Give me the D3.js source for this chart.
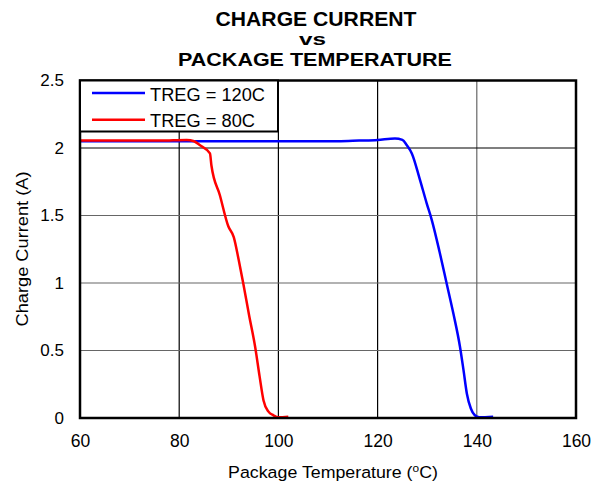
<!DOCTYPE html>
<html>
<head>
<meta charset="utf-8">
<script src="https://cdn.jsdelivr.net/npm/d3@7/dist/d3.min.js"></script>
<style>
  body { margin: 0; background: #fff; }
  svg { display: block; font-family: "Liberation Sans", Arial, sans-serif; }
</style>
</head>
<body>
<svg id="chart" width="592" height="484"></svg>
<script>
// Charge current vs package temperature for two regulation thresholds
const xTicks = [60, 80, 100, 120, 140, 160];
const yTicks = [0, 0.5, 1, 1.5, 2, 2.5];
const yTickLabels = ["0", "0.5", "1", "1.5", "2", "2.5"];

const treg120Temp = [60, 80, 100, 112, 116.3, 120, 123.5, 125, 125.9, 126.9, 128.5, 129.9, 130.9, 132.5, 133.9, 135.3, 136.6, 137.3, 138.0, 138.8, 139.6, 140.5, 143.3];
const treg120Amp  = [2.05, 2.05, 2.05, 2.05, 2.055, 2.06, 2.07, 2.06, 2.02, 1.96, 1.77, 1.59, 1.47, 1.23, 1.0, 0.77, 0.53, 0.36, 0.18, 0.07, 0.02, 0.005, 0.01];

const treg80Temp = [60, 76.1, 81.5, 83, 84.2, 86.2, 86.5, 88.2, 89.9, 91.0, 92.0, 92.9, 94.1, 95.3, 96.2, 97.0, 98.0, 99.0, 100, 102];
const treg80Amp  = [2.055, 2.055, 2.06, 2.05, 2.02, 1.96, 1.87, 1.65, 1.42, 1.34, 1.17, 1.0, 0.76, 0.53, 0.31, 0.13, 0.047, 0.02, 0.005, 0.01];

const series = [
  { name: "TREG = 120C", color: "#0000ff", temp: treg120Temp, amp: treg120Amp },
  { name: "TREG = 80C",  color: "#ff0000", temp: treg80Temp,  amp: treg80Amp }
];

const svg = d3.select("#chart");
const plot = { left: 80, right: 576, top: 80.5, bottom: 418 };

const x = d3.scaleLinear().domain([60, 160]).range([plot.left, plot.right]);
const y = d3.scaleLinear().domain([0, 2.5]).range([plot.bottom, plot.top]);

// Stretch a text element horizontally (in its own frame) to a given width
function fitWidth(sel, width) {
  const w = sel.node().getComputedTextLength();
  if (w > 0) sel.attr("transform", (sel.attr("transform") || "") + ` scale(${width / w},1)`);
}

// Places a stretched label with its anchor point at (cx, by)
function label(parent, cx, by, txt, size, width, anchor, bold, rotate) {
  const g = parent.append("g").attr("transform", `translate(${cx},${by})` + (rotate ? ` rotate(${rotate})` : ""));
  const t = g.append("text").attr("x", 0).attr("y", 0)
    .attr("text-anchor", anchor).attr("font-size", size).attr("fill", "#000");
  if (bold) t.attr("font-weight", "bold");
  if (typeof txt === "function") txt(t); else t.text(txt);
  fitWidth(t, width);
  return t;
}

// Title
label(svg, 316, 26, "CHARGE CURRENT", 20, 201, "middle", true);
label(svg, 312.5, 45, "vs", 16, 27, "middle", true);
label(svg, 315, 66, "PACKAGE TEMPERATURE", 19, 274, "middle", true);

// Grid
const grid = svg.append("g");
grid.selectAll("line.v").data(xTicks.slice(1, -1)).join("line")
  .attr("x1", d => x(d)).attr("x2", d => x(d))
  .attr("y1", plot.top).attr("y2", plot.bottom)
  .attr("stroke", d => d === 140 ? "#666" : "#000").attr("stroke-width", 1.2);
grid.selectAll("line.h").data(yTicks.slice(1, -1)).join("line")
  .attr("x1", plot.left).attr("x2", plot.right)
  .attr("y1", d => y(d)).attr("y2", d => y(d))
  .attr("stroke", d => d === 2 ? "#000" : "#666").attr("stroke-width", 1.2);

// Axes (labels only; the frame is drawn separately)
const xAxis = svg.append("g")
  .attr("transform", `translate(0,${plot.bottom})`)
  .call(d3.axisBottom(x).tickValues(xTicks).tickSize(0));
xAxis.select(".domain").remove();
xAxis.selectAll("text").attr("font-size", 17.5).attr("fill", "#000")
  .attr("font-family", "'Liberation Sans', Arial, sans-serif")
  .attr("y", 29).attr("dy", 0);

const yAxis = svg.append("g")
  .attr("transform", `translate(${plot.left},0)`)
  .call(d3.axisLeft(y).tickValues(yTicks).tickFormat((d, i) => yTickLabels[i]).tickSize(0));
yAxis.select(".domain").remove();
yAxis.selectAll("text").attr("font-size", 17).attr("fill", "#000")
  .attr("font-family", "'Liberation Sans', Arial, sans-serif")
  .attr("x", -16);

// Curves
const line = d3.line().curve(d3.curveMonotoneX);
series.forEach(s => {
  const pts = s.temp.map((t, i) => [x(t), y(s.amp[i])]);
  svg.append("path").attr("d", line(pts))
    .attr("fill", "none").attr("stroke", s.color).attr("stroke-width", 2.5)
    .attr("stroke-linejoin", "round");
});

// Plot frame
svg.append("rect")
  .attr("x", plot.left).attr("y", plot.top)
  .attr("width", plot.right - plot.left).attr("height", plot.bottom - plot.top)
  .attr("fill", "none").attr("stroke", "#000").attr("stroke-width", 2.5);

// Legend
const legend = svg.append("g");
legend.append("rect").attr("x", plot.left).attr("y", plot.top)
  .attr("width", 198).attr("height", 51)
  .attr("fill", "#fff").attr("stroke", "#000").attr("stroke-width", 2);
const legendWidths = [115, 105];
series.forEach((s, i) => {
  const ly = 93 + i * 26.7;
  legend.append("line").attr("x1", 92).attr("x2", 145).attr("y1", ly).attr("y2", ly)
    .attr("stroke", s.color).attr("stroke-width", 2.5);
  label(legend, 150, ly + 7.5, s.name, 19, legendWidths[i], "start", false);
});

// Axis titles
label(svg, 333, 478, t => t.html('Package Temperature (<tspan dy="-6" font-size="11">o</tspan><tspan dy="6">C)</tspan>'),
  16.5, 210, "middle", false);
label(svg, 28, 249, "Charge Current (A)", 16.5, 155, "middle", false, -90);
</script>
</body>
</html>
